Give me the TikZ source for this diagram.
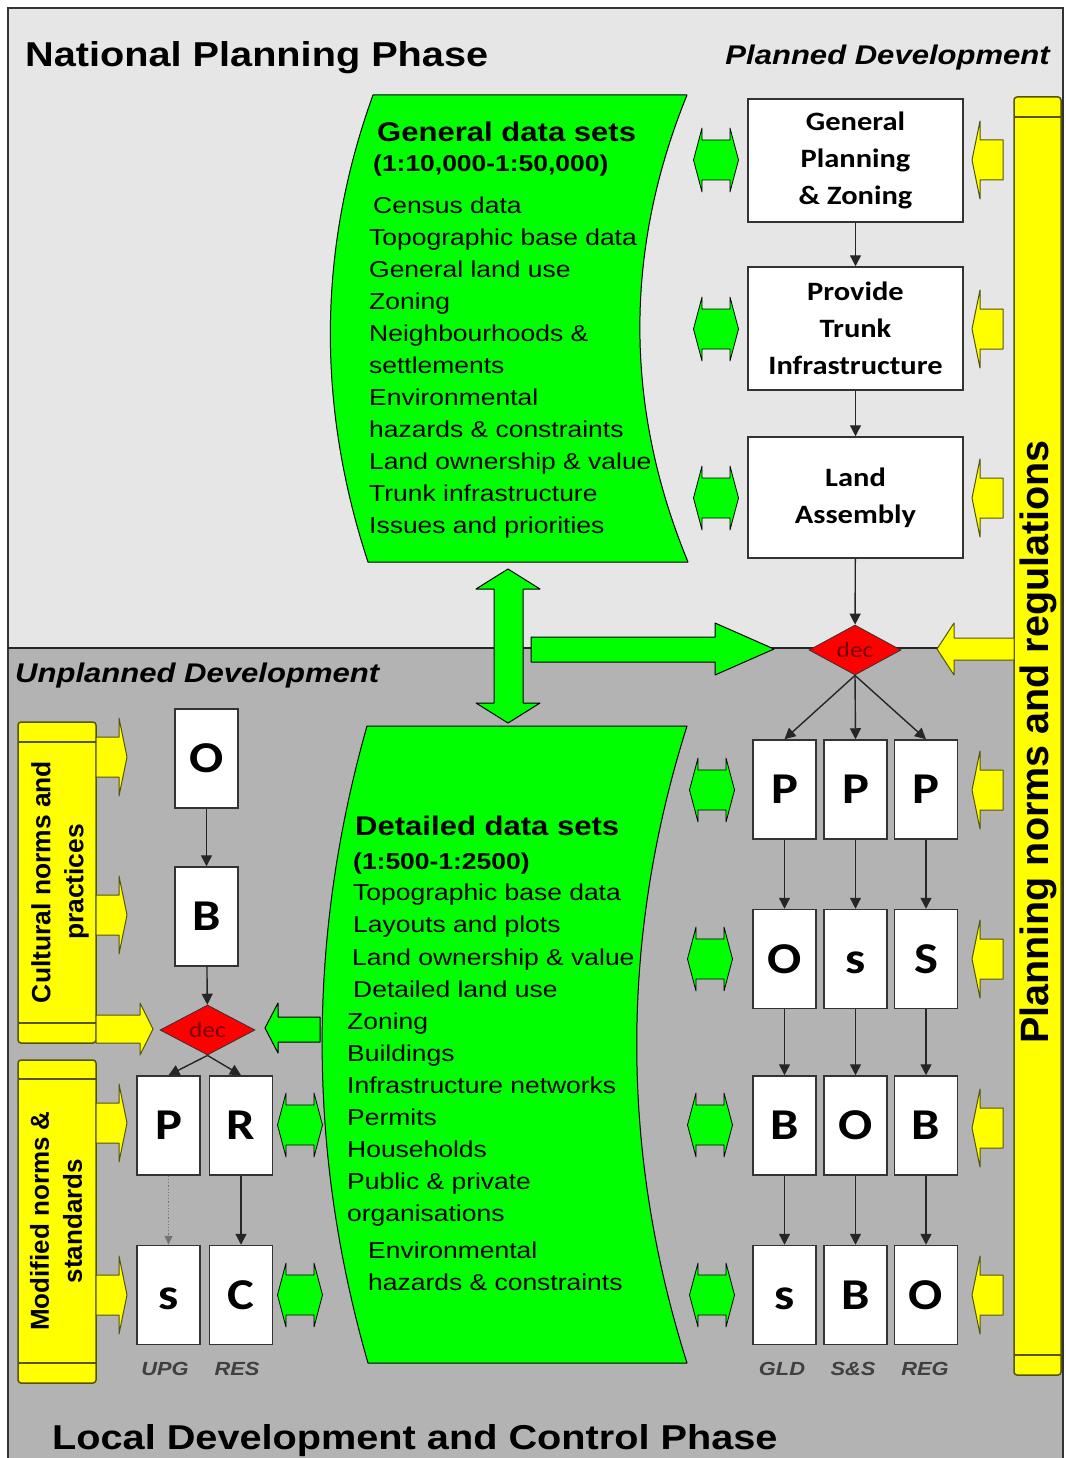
\documentclass[tikz,border=0pt]{standalone}
\usepackage{fontspec}
\setmainfont[FakeStretch=1.15]{Liberation Sans}
\newfontfamily\boxfont[FakeStretch=1.15]{Carlito}
\newfontfamily\sidefont{Liberation Sans}
\usetikzlibrary{shapes.geometric,arrows.meta}

\definecolor{topbg}{HTML}{E6E6E6}
\definecolor{lowbg}{HTML}{B3B3B3}
\definecolor{datagreen}{HTML}{00FF00}
\definecolor{normyellow}{HTML}{FFFF00}
\definecolor{yedge}{HTML}{55550A}
\definecolor{decred}{HTML}{FF0000}
\definecolor{dectext}{HTML}{700000}
\definecolor{edge}{HTML}{333333}

\tikzset{
  stepbox/.style={draw=edge, line width=1.5pt, fill=white, minimum width=215pt,
    minimum height=123pt, inner sep=0pt, align=center,
    font=\boxfont\bfseries\fontsize{26.5}{37}\selectfont},
  letterbox/.style={draw=edge, line width=1.5pt, fill=white, minimum width=63pt,
    minimum height=99pt, inner sep=0pt, text height=28pt, text depth=0pt,
    font=\boxfont\bfseries\fontsize{44}{44}\selectfont},
  decision/.style={diamond, draw=edge, line width=0.8pt, fill=decred, aspect=1.8,
    minimum width=92pt, minimum height=50pt, inner sep=0pt, text=dectext,
    font=\boxfont\fontsize{22}{22}\selectfont},
  flow/.style={draw=black!85, line width=1.4pt, -{Triangle[length=11pt,width=11pt]}},
  gshape/.style={fill=datagreen, draw=black, line width=1pt, line join=round},
  yshape/.style={fill=normyellow, draw=yedge, line width=1.5pt, line join=round},
  dtext/.style={anchor=base west, inner sep=0pt, font=\fontsize{23}{23}\selectfont},
  dhead/.style={anchor=base west, inner sep=0pt, font=\bfseries\fontsize{27}{27}\selectfont},
  dsub/.style={anchor=base west, inner sep=0pt, font=\bfseries\fontsize{23}{23}\selectfont},
  tag/.style={anchor=base, inner sep=0pt, text=black!75,
    font=\bfseries\itshape\fontsize{19}{19}\selectfont},
  phase/.style={inner sep=0pt, font=\bfseries\fontsize{34.5}{34.5}\selectfont},
  stream/.style={inner sep=0pt, font=\bfseries\itshape\fontsize{27}{27}\selectfont},
  scrolltext/.style={rotate=90, inner sep=0pt, align=center},
  % two-way exchange arrow between data sets and a step
  pics/twoway/.style={code={
    \path[gshape, line width=0.8pt] (-22.5,0) -- (-14,-32) -- (-14,-20) -- (14,-20)
      -- (14,-32) -- (22.5,0) -- (14,32) -- (14,20) -- (-14,20) -- (-14,32) -- cycle;}},
  % norm arrows, tip at the origin
  pics/pushleft/.style={code={
    \path[yshape, line width=1pt] (0,0) -- (8,-39) -- (8,-20) -- (31,-20) -- (31,20)
      -- (8,20) -- (8,39) -- cycle;}},
  pics/pushright/.style={code={
    \path[yshape, line width=1pt] (0,0) -- (-8,-39) -- (-8,-20) -- (-31,-20) -- (-31,20)
      -- (-8,20) -- (-8,39) -- cycle;}},
}

\begin{document}
\begin{tikzpicture}[x=1pt, y=-1pt]
\useasboundingbox (0,0) rectangle (1065,1458);

% phases
\fill[white] (0,0) rectangle (1065,1458);
\fill[topbg] (8,8) rectangle (1063,648);
\fill[lowbg] (8,648) rectangle (1063,1458);
\draw[edge, line width=1.5pt] (8,1458) -- (8,8) -- (1063,8) -- (1063,1458);
\draw[black!85, line width=1.6pt] (8,648) -- (1063,648);

\node[phase, anchor=base west] (natl) at (25,67) {National Planning Phase};
\node[stream, anchor=base east] (plan) at (1050,65) {Planned Development};
\node[stream, anchor=base west] (unpl) at (15,682) {Unplanned Development};
\node[phase, anchor=base west] (locl) at (52,1449) {Local Development and Control Phase};

% data sets
\path[gshape] (373,95) -- (687,95) .. controls (624,250) and (624,407) .. (688,562)
  -- (368,562) .. controls (317,407) and (317,250) .. (373,95) -- cycle;
\path[gshape] (367,726) -- (687,726) .. controls (620,938) and (620,1151) .. (687,1363)
  -- (368,1363) .. controls (307,1151) and (307,938) .. (367,726) -- cycle;

\node[dhead] (gtitle) at (377,142) {General data sets};
\node[dsub] (gscale) at (373,172) {(1:10,000-1:50,000)};
\foreach \n/\xx/\yy/\t in {1/373/213/Census data, 2/369/245/Topographic base data,
    3/369/277/General land use, 4/369/309/Zoning, 5/369/341/Neighbourhoods \&,
    6/369/373/settlements, 7/369/405/Environmental, 8/369/437/hazards \& constraints,
    9/369/469/Land ownership \& value, 10/369/501/Trunk infrastructure,
    11/369/533/Issues and priorities}
  \node[dtext] (gen\n) at (\xx,\yy) {\t};

\node[dhead] (dtitle) at (355,835) {Detailed data sets};
\node[dsub] (dscale) at (353,869) {(1:500-1:2500)};
\foreach \n/\xx/\yy/\t in {1/353/900/Topographic base data, 2/353/932/Layouts and plots,
    3/352/965/Land ownership \& value, 4/353/997/Detailed land use,
    5/347/1029/Zoning, 6/347/1061/Buildings, 7/347/1093/Infrastructure networks,
    8/347/1125/Permits, 9/347/1157/Households, 10/347/1189/Public \& private,
    11/347/1221/organisations, 12/368/1258/Environmental,
    13/368/1290/hazards \& constraints}
  \node[dtext] (det\n) at (\xx,\yy) {\t};

% exchange between the two scales and into the decision
\path[gshape] (508,569) -- (540,589) -- (523,589) -- (523,703) -- (540,703) -- (508,723)
  -- (476,703) -- (494,703) -- (494,589) -- (476,589) -- cycle;
\path[gshape] (774,649) -- (715,623) -- (715,637) -- (531,637) -- (531,662) -- (715,662)
  -- (715,675) -- cycle;
\path[gshape] (265,1028) -- (278,1003) -- (278,1017) -- (320,1017) -- (320,1042)
  -- (278,1042) -- (278,1053) -- cycle;

% norms
\path[yshape, rounded corners=3pt] (1014,97) rectangle (1061,1375);
\draw[yedge, line width=1.5pt] (1014,117) -- (1061,117) (1014,1355) -- (1061,1355);
\node[scrolltext, font=\sidefont\bfseries\fontsize{39.5}{39.5}\selectfont] (pnr)
  at (1038,742) {Planning norms and regulations};

\path[yshape, rounded corners=3pt] (18,722) rectangle (96,1043);
\draw[yedge, line width=1.5pt] (18,742) -- (96,742) (18,1023) -- (96,1023);
\node[scrolltext, font=\sidefont\bfseries\fontsize{26.4}{33}\selectfont] (cnp)
  at (60,882) {Cultural norms and\\practices};

\path[yshape, rounded corners=3pt] (18,1060) rectangle (96,1383);
\draw[yedge, line width=1.5pt] (18,1079) -- (96,1079) (18,1363) -- (96,1363);
\node[scrolltext, font=\sidefont\bfseries\fontsize{26}{33}\selectfont] (mns)
  at (56,1221) {Modified norms \&\\standards};

\path[yshape, line width=1pt] (937,649) -- (954,623) -- (954,638) -- (1014,638)
  -- (1014,660) -- (954,660) -- (954,675) -- cycle;
\path[yshape, line width=1pt] (153,1029) -- (140,1003) -- (140,1015) -- (96,1015)
  -- (96,1043) -- (140,1043) -- (140,1055) -- cycle;

\foreach \yy in {160,329,498,790,959,1128,1295}
  \pic at (972,\yy) {pushleft};
\foreach \yy in {757,915,1123,1295}
  \pic at (127,\yy) {pushright};

\foreach \xx/\yy in {716/160,716/329,716/498,712/790,710/959,710/1125,712/1295,
    300/1125,300/1295}
  \pic at (\xx,\yy) {twoway};

% planned development
\node[stepbox] (gpz) at (855.5,160.5) {General\\Planning\\\& Zoning};
\node[stepbox] (pti) at (855.5,328.5) {Provide\\Trunk\\Infrastructure};
\node[stepbox, minimum height=121pt] (las) at (855.5,497.5) {Land\\Assembly};
\node[decision] (decp) at (855,650) {dec};

\node[letterbox] (a1) at (784.5,789.5) {P};
\node[letterbox] (b1) at (855.5,789.5) {P};
\node[letterbox] (c1) at (926,789.5) {P};
\node[letterbox] (a2) at (784.5,959) {O};
\node[letterbox] (b2) at (855.5,959) {s};
\node[letterbox] (c2) at (926,959) {S};
\node[letterbox] (a3) at (784.5,1125.5) {B};
\node[letterbox] (b3) at (855.5,1125.5) {O};
\node[letterbox] (c3) at (926,1125.5) {B};
\node[letterbox] (a4) at (784.5,1295) {s};
\node[letterbox] (b4) at (855.5,1295) {B};
\node[letterbox] (c4) at (926,1295) {O};

\node[tag] (gld) at (782,1375) {GLD};
\node[tag] (sns) at (853,1375) {S\&S};
\node[tag] (reg) at (925,1375) {REG};

\draw[flow] (gpz) -- (pti);
\draw[flow] (pti) -- (las);
\draw[flow] (las) -- (decp);
\foreach \c in {a,b,c} {
  \draw[flow] (decp.south) -- (\c1.north);
  \draw[flow] (\c1) -- (\c2);
  \draw[flow] (\c2) -- (\c3);
  \draw[flow] (\c3) -- (\c4);
}

% unplanned development
\node[letterbox] (uo) at (206.5,758.5) {O};
\node[letterbox] (ub) at (206.5,916.5) {B};
\node[decision, minimum width=95pt] (decu) at (207.5,1030) {dec};
\node[letterbox] (up) at (168.5,1125.5) {P};
\node[letterbox] (ur) at (241,1125.5) {R};
\node[letterbox] (us) at (168.5,1295) {s};
\node[letterbox] (uc) at (241,1295) {C};

\node[tag] (upg) at (165,1375) {UPG};
\node[tag] (res) at (237,1375) {RES};

\draw[flow] (uo) -- (ub);
\draw[flow] (ub) -- (decu);
\draw[flow] (decu.south) -- (up.north);
\draw[flow] (decu.south) -- (ur.north);
\draw[draw=black!55, line width=1.2pt, dotted, -{Triangle[length=9pt,width=8pt]}] (up) -- (us);
\draw[flow] (ur) -- (uc);
\end{tikzpicture}
\end{document}
